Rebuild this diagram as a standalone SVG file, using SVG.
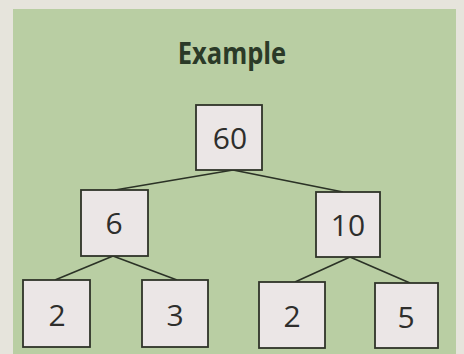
<svg xmlns="http://www.w3.org/2000/svg" width="464" height="354" viewBox="0 0 464 354">
<style>
.box{fill:#ebe6e6;stroke:#2f3329;stroke-width:1.8}
.num{font-family:"Open Sans","DejaVu Sans",sans-serif;font-size:30px;fill:#2e2e2c;text-anchor:middle}
.ln{stroke:#2b3226;stroke-width:1.6;fill:none}
</style>
<rect x="0" y="0" width="464" height="354" fill="#e6e4dc"/>
<rect x="13" y="9" width="443" height="345" fill="#b9cea3"/>
<text x="232" y="64" font-family="Open Sans, DejaVu Sans, sans-serif" font-size="30" font-weight="bold" fill="#2b3a28" text-anchor="middle" transform="translate(232 0) scale(0.85 1) translate(-232 0)">Example</text>
<g id="connectors">
<line class="ln" x1="233" y1="170" x2="115" y2="190"/>
<line class="ln" x1="233" y1="170" x2="343" y2="192"/>
<line class="ln" x1="113" y1="256" x2="55" y2="280"/>
<line class="ln" x1="113" y1="256" x2="177" y2="280"/>
<line class="ln" x1="350" y1="257" x2="295" y2="282"/>
<line class="ln" x1="350" y1="257" x2="410" y2="283"/>
</g>
<g id="n60"><rect class="box" x="196" y="105" width="66" height="65"/><text class="num" x="230" y="149">60</text></g>
<g id="n6"><rect class="box" x="81" y="190" width="67" height="66"/><text class="num" x="114" y="234">6</text></g>
<g id="n10"><rect class="box" x="316" y="192" width="64" height="65"/><text class="num" x="348" y="236">10</text></g>
<g id="n2a"><rect class="box" x="23" y="280" width="67" height="67"/><text class="num" x="57" y="326">2</text></g>
<g id="n3"><rect class="box" x="142" y="280" width="66" height="67"/><text class="num" x="175" y="326">3</text></g>
<g id="n2b"><rect class="box" x="259" y="282" width="66" height="66"/><text class="num" x="292" y="327">2</text></g>
<g id="n5"><rect class="box" x="375" y="283" width="63" height="65"/><text class="num" x="406" y="328">5</text></g>
</svg>
